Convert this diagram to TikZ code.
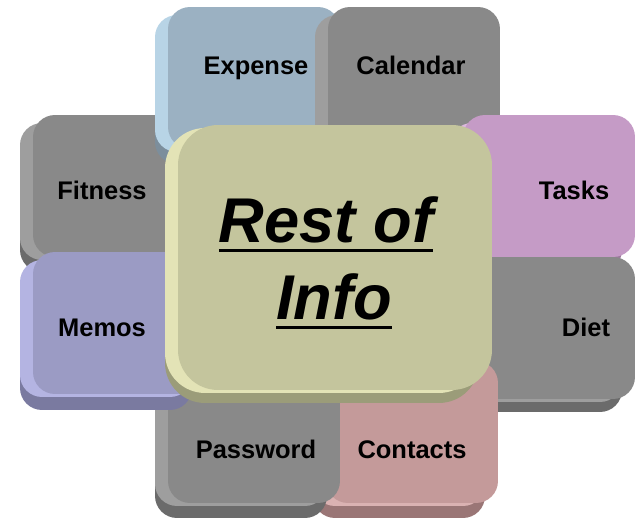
\documentclass[tikz,border=0pt]{standalone}
\usepackage{fontspec}
\setmainfont{Liberation Sans}
\usetikzlibrary{shapes}

\definecolor{grayF}{HTML}{898989}
\definecolor{grayL}{HTML}{9E9E9E}
\definecolor{grayD}{HTML}{6B6B6B}
\definecolor{blueF}{HTML}{9BB1C2}
\definecolor{blueL}{HTML}{B8D4E6}
\definecolor{blueD}{HTML}{7C8E9C}
\definecolor{pinkF}{HTML}{C59BC6}
\definecolor{pinkL}{HTML}{DDB8DE}
\definecolor{pinkD}{HTML}{9C7A9D}
\definecolor{roseF}{HTML}{C49A9A}
\definecolor{roseL}{HTML}{DAB2B2}
\definecolor{roseD}{HTML}{9A7676}
\definecolor{lilacF}{HTML}{9B9BC4}
\definecolor{lilacL}{HTML}{B4B4E2}
\definecolor{lilacD}{HTML}{7A7AA0}
\definecolor{oliveF}{HTML}{C4C59D}
\definecolor{oliveL}{HTML}{E3E3B6}
\definecolor{oliveD}{HTML}{9B9C79}

\newsavebox{\ulbox}
\newcommand{\thickul}[1]{\sbox{\ulbox}{#1}\rlap{\raisebox{-0.18cm}{\rule{\wd\ulbox}{0.066cm}}}\usebox{\ulbox}}

\begin{document}
\begin{tikzpicture}[x = 0.02cm, y = -0.02cm]
	\tikzstyle{tileStyle}=[shape = rectangle, rounded corners = 0.44cm, minimum width = 3.44cm, minimum height = 2.84cm, inner sep = 0pt]
	\tikzstyle{sideStyle}=[tileStyle, minimum height = 2.74cm]
	\tikzstyle{hubStyle}=[shape = rectangle, rounded corners = 0.8cm, minimum width = 6.28cm, minimum height = 5.3cm, inner sep = 0pt]
	\tikzstyle{labelStyle}=[anchor = base, inner sep = 0pt, font = \fontsize{14.5}{17}\selectfont\bfseries]
	\tikzstyle{hubLabelStyle}=[anchor = base, inner sep = 0pt, font = \fontsize{36}{43}\selectfont\bfseries\itshape]
	\useasboundingbox (0, 0) rectangle (635, 519);
	% Fitness
	\node[tileStyle, fill = grayD] (d0) at (106, 201) {};
	\node[sideStyle, fill = grayL] (s0) at (106, 191.5) {};
	\node[tileStyle, fill = grayF] (t0) at (119, 186) {};
	\node[labelStyle] (l0) at (102, 200) {Fitness};
	% Expense
	\node[tileStyle, fill = blueD] (d1) at (241, 93) {};
	\node[sideStyle, fill = blueL] (s1) at (241, 83.5) {};
	\node[tileStyle, fill = blueF] (t1) at (254, 78) {};
	\node[labelStyle] (l1) at (256, 75) {Expense};
	% Calendar
	\node[tileStyle, fill = grayD] (d2) at (401, 93) {};
	\node[sideStyle, fill = grayL] (s2) at (401, 83.5) {};
	\node[tileStyle, fill = grayF] (t2) at (414, 78) {};
	\node[labelStyle] (l2) at (411, 75) {Calendar};
	% Tasks
	\node[tileStyle, fill = pinkD] (d3) at (536, 201) {};
	\node[sideStyle, fill = pinkL] (s3) at (536, 191.5) {};
	\node[tileStyle, fill = pinkF] (t3) at (549, 186) {};
	\node[labelStyle] (l3) at (574, 200) {Tasks};
	% Diet
	\node[tileStyle, fill = grayD] (d4) at (536, 341) {};
	\node[sideStyle, fill = grayL] (s4) at (536, 333.5) {};
	\node[tileStyle, fill = grayF] (t4) at (549, 328) {};
	\node[labelStyle] (l4) at (586, 337) {Diet};
	% Contacts
	\node[tileStyle, fill = roseD] (d5) at (399, 447) {};
	\node[sideStyle, fill = roseL] (s5) at (399, 437.5) {};
	\node[tileStyle, fill = roseF] (t5) at (412, 432) {};
	\node[labelStyle] (l5) at (412, 459) {Contacts};
	% Password
	\node[tileStyle, fill = grayD] (d6) at (241, 447) {};
	\node[sideStyle, fill = grayL] (s6) at (241, 437.5) {};
	\node[tileStyle, fill = grayF] (t6) at (254, 432) {};
	\node[labelStyle] (l6) at (256, 459) {Password};
	% Memos
	\node[tileStyle, fill = lilacD] (d7) at (106, 339) {};
	\node[sideStyle, fill = lilacL] (s7) at (106, 328.5) {};
	\node[tileStyle, fill = lilacF] (t7) at (119, 323) {};
	\node[labelStyle] (l7) at (102, 337) {Memos};
	% Rest of Info
	\node[hubStyle, fill = oliveD] (d8) at (322, 270.5) {};
	\node[hubStyle, fill = oliveL] (s8) at (322, 260.5) {};
	\node[hubStyle, fill = oliveF] (c0) at (335, 257.5) {};
	\node[hubLabelStyle] (c1) at (326, 243) {\thickul{Rest of}};
	\node[hubLabelStyle] (c2) at (334, 320) {\thickul{Info}};
\end{tikzpicture}
\end{document}
